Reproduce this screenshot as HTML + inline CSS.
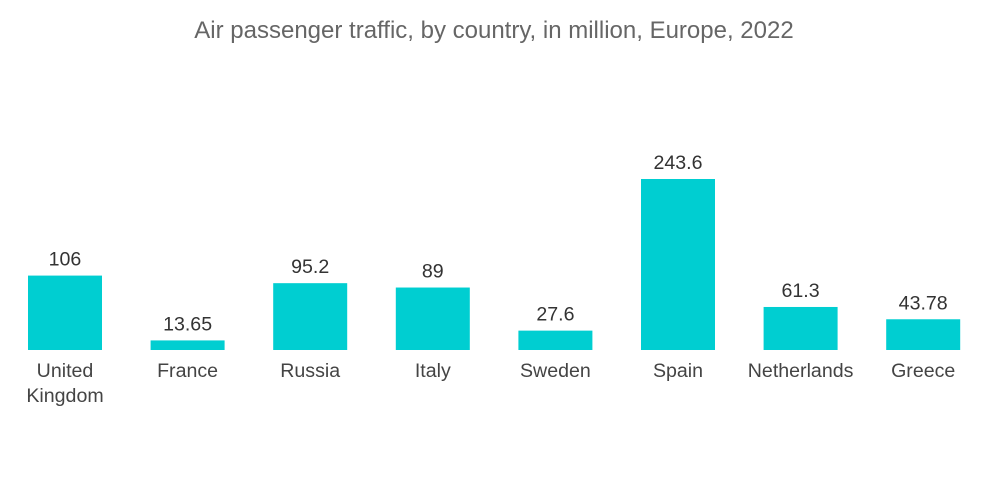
<!DOCTYPE html>
<html><head><meta charset="utf-8"><style>
body{margin:0;background:#fff;}
svg{display:block;font-family:"Liberation Sans",sans-serif;}
</style></head><body>
<svg id="chart" width="1000" height="504">
<text x="494" y="38" text-anchor="middle" font-size="24" fill="#666">Air passenger traffic, by country, in million, Europe, 2022</text>
<g id="bars"></g>
</svg>
<script>
const categories=[["United","Kingdom"],["France"],["Russia"],["Italy"],["Sweden"],["Spain"],["Netherlands"],["Greece"]];
const values=[106,13.65,95.2,89,27.6,243.6,61.3,43.78];
const valueLabels=["106","13.65","95.2","89","27.6","243.6","61.3","43.78"];
const base=350, scale=171/243.6, x0=28, step=122.6, bw=74;
const y=v=>base-v*scale;
const xs=i=>x0+i*step;
const g=document.getElementById('bars');
const ns="http://www.w3.org/2000/svg";
values.forEach((v,i)=>{
  const r=document.createElementNS(ns,'rect');
  r.setAttribute('x',xs(i));r.setAttribute('y',y(v));
  r.setAttribute('width',bw);r.setAttribute('height',base-y(v));
  r.setAttribute('fill','#00ced1');
  
  
  g.appendChild(r);
  const t=document.createElementNS(ns,'text');
  t.setAttribute('x',xs(i)+bw/2);t.setAttribute('y',y(v)-10);
  t.setAttribute('text-anchor','middle');t.setAttribute('font-size','19.6');t.setAttribute('fill','#333');
  t.textContent=valueLabels[i];
  
  
  g.appendChild(t);
  categories[i].forEach((line,j)=>{
    const c=document.createElementNS(ns,'text');
    c.setAttribute('x',xs(i)+bw/2);c.setAttribute('y',377+j*25);
    c.setAttribute('text-anchor','middle');c.setAttribute('font-size','19.6');c.setAttribute('fill','#444');
    c.textContent=line;
    
    
    g.appendChild(c);
  });
});
</script>
</body></html>
